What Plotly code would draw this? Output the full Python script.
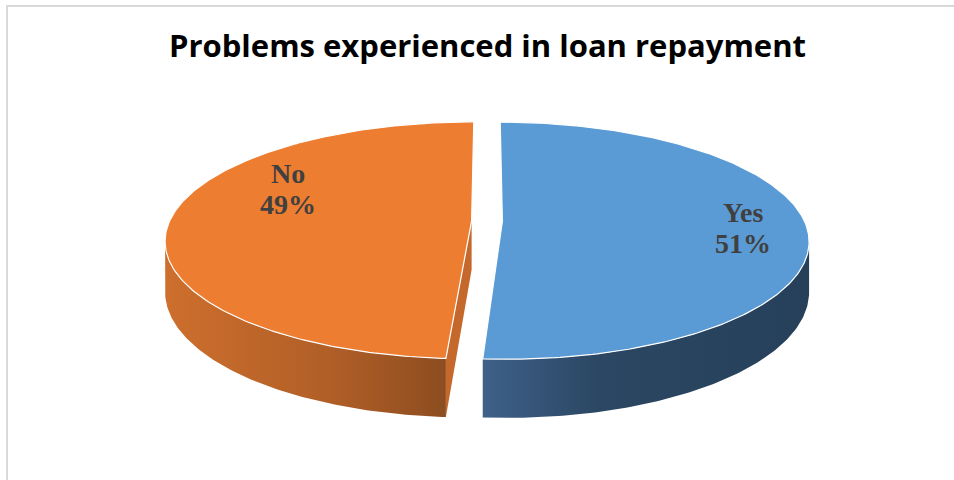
import numpy as np
import plotly.graph_objects as go

# Survey answers and their shares (percent)
labels = ["Yes", "No"]
values = [51, 49]
top_colors = ["#5B9BD5", "#ED7D31"]
side_scales = [
    [[0.0, "#3E6189"], [0.35, "#2B4763"], [1.0, "#26405A"]],
    [[0.0, "#CD6F2D"], [0.6, "#B05E27"], [1.0, "#8C4D20"]],
]
cut_color = "#C4692B"
title_text = "Problems experienced in loan repayment"

# Projection of the tilted disc onto the page (pixel space)
CX, CY = 487.0, 221.0      # screen position of the disc centre
A, B = 302.0, 115.3        # horizontal / vertical radii scale
K = 0.1646                 # perspective strength (back is farther away)
H = 49.0                   # thickness of the disc
EXPLODE = 0.051            # slice separation, in disc radii


def project(px, py, depth=0.0):
    d = 1.0 + K * py
    return CX + A * px / d, CY - B * py / d + H * depth / d


def rim(t_deg, off, depth=0.0):
    t = np.radians(t_deg)
    return project(np.sin(t) + off[0], np.cos(t) + off[1], depth)


fig = go.Figure()

total = float(sum(values))
bounds = []
start = 0.0
for v in values:
    end = start + 360.0 * v / total
    bounds.append((start, end))
    start = end

offsets = []
for (a0, a1) in bounds:
    mid = np.radians((a0 + a1) / 2.0)
    offsets.append((EXPLODE * np.sin(mid), EXPLODE * np.cos(mid)))

# silhouette angles of the cylinder wall (front half is visible)
t_sil = np.degrees(np.arccos(-K))
vis_lo, vis_hi = t_sil, 360.0 - t_sil

# cut face exposed on the right of the "No" slice (front boundary)
a_front = bounds[0][1]
off_no = offsets[1]
c_top = project(off_no[0], off_no[1])
c_bot = project(off_no[0], off_no[1], 1.0)
f_top = rim(a_front, off_no)
f_bot = rim(a_front, off_no, 1.0)
fig.add_trace(go.Scatter(
    x=[c_top[0], f_top[0], f_bot[0], c_bot[0], c_top[0]],
    y=[c_top[1], f_top[1], f_bot[1], c_bot[1], c_top[1]],
    mode="lines", fill="toself", fillcolor=cut_color,
    line=dict(width=0), hoverinfo="skip", showlegend=False))

# outer walls
for i, (a0, a1) in enumerate(bounds):
    lo, hi = max(a0, vis_lo), min(a1, vis_hi)
    if hi <= lo:
        continue
    ts = np.linspace(lo, hi, 120)
    tx, ty = rim(ts, offsets[i])
    bx, by = rim(ts[::-1], offsets[i], 1.0)
    xs = np.concatenate([tx, bx, tx[:1]])
    ys = np.concatenate([ty, by, ty[:1]])
    fig.add_trace(go.Scatter(
        x=xs, y=ys, mode="lines", fill="toself",
        fillgradient=dict(type="horizontal", colorscale=side_scales[i]),
        line=dict(width=0), hoverinfo="skip", showlegend=False))

# top faces
for i, (a0, a1) in enumerate(bounds):
    ts = np.linspace(a0, a1, 240)
    ax, ay = rim(ts, offsets[i])
    cx_, cy_ = project(offsets[i][0], offsets[i][1])
    xs = np.concatenate([[cx_], ax, [cx_]])
    ys = np.concatenate([[cy_], ay, [cy_]])
    fig.add_trace(go.Scatter(
        x=xs, y=ys, mode="lines", fill="toself", fillcolor=top_colors[i],
        line=dict(color="white", width=1.2), hoverinfo="skip",
        name=labels[i], showlegend=False))

# data labels
label_pos = {"Yes": (743, 212), "No": (288, 173)}
lab_font = dict(family="Liberation Serif", size=28, color="#404040", weight="bold")
for lab, v in zip(labels, values):
    x0, y0 = label_pos[lab]
    fig.add_annotation(x=x0, y=y0, text=lab, showarrow=False, font=lab_font,
                       xanchor="center", yanchor="middle")
    fig.add_annotation(x=x0, y=y0 + 31, text=f"{v}%", showarrow=False, font=lab_font,
                       xanchor="center", yanchor="middle")

# title
fig.add_annotation(x=487, y=45, text=title_text, showarrow=False,
                   font=dict(family="Open Sans", size=31, color="black", weight="bold"),
                   xanchor="center", yanchor="middle")

# chart-area frame
fig.add_shape(type="line", x0=6, x1=954, y0=6, y1=6, line=dict(color="#D9D9D9", width=2))
fig.add_shape(type="line", x0=7, x1=7, y0=6, y1=480, line=dict(color="#D9D9D9", width=2))

fig.update_layout(
    width=954, height=480, margin=dict(l=0, r=0, t=0, b=0),
    paper_bgcolor="white", plot_bgcolor="white",
    xaxis=dict(range=[0, 954], visible=False, fixedrange=True),
    yaxis=dict(range=[480, 0], visible=False, fixedrange=True),
    showlegend=False,
)

fig.write_html("out.html")
